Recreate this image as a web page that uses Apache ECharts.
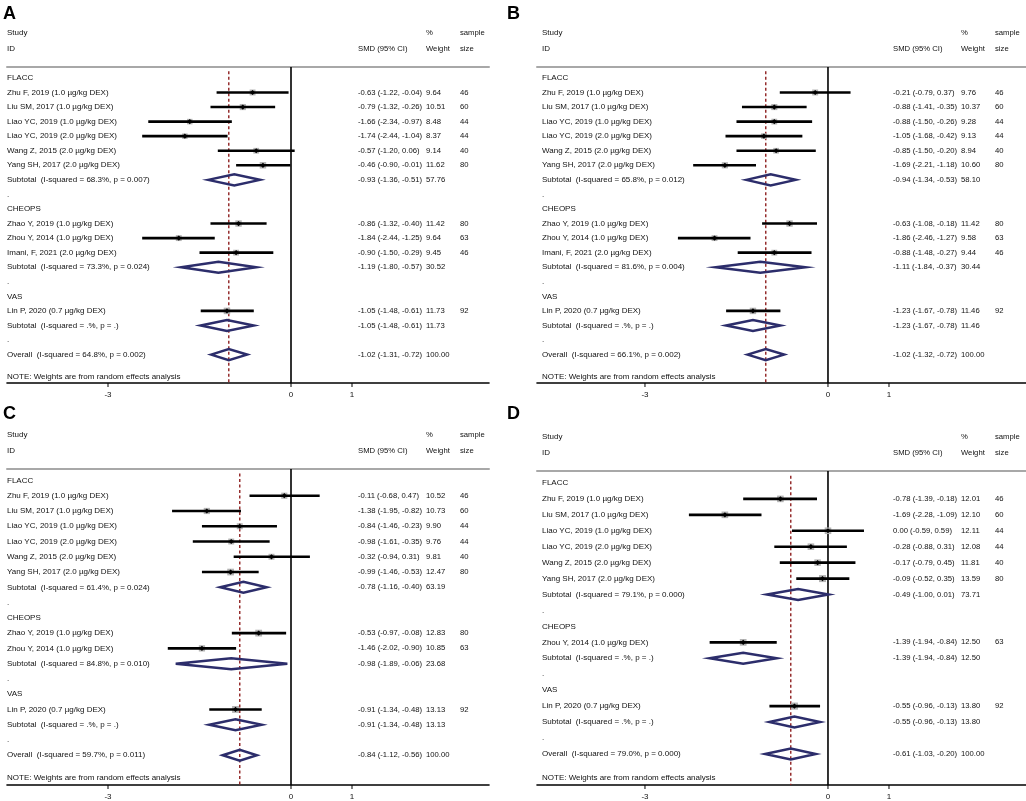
<!DOCTYPE html>
<html>
<head>
<meta charset="utf-8">
<script src="https://cdn.jsdelivr.net/npm/echarts@6/dist/echarts.min.js"></script>
<style>
html, body { margin: 0; padding: 0; background: #fff; }
#chart { width: 1026px; height: 801px; }
</style>
</head>
<body>
<div id="chart"></div>
<script>
"use strict"
// row kinds: g = group heading, s = study, t = subtotal, d = "." spacer, o = overall

// ---- panel A ----
var A_label = ["FLACC", "Zhu F, 2019 (1.0 µg/kg DEX)", "Liu SM, 2017 (1.0 µg/kg DEX)", "Liao YC, 2019 (1.0 µg/kg DEX)",
  "Liao YC, 2019 (2.0 µg/kg DEX)", "Wang Z, 2015 (2.0 µg/kg DEX)", "Yang SH, 2017 (2.0 µg/kg DEX)",
  "Subtotal  (I-squared = 68.3%, p = 0.007)", ".", "CHEOPS", "Zhao Y, 2019 (1.0 µg/kg DEX)", "Zhou Y, 2014 (1.0 µg/kg DEX)",
  "Imani, F, 2021 (2.0 µg/kg DEX)", "Subtotal  (I-squared = 73.3%, p = 0.024)", ".", "VAS", "Lin P, 2020 (0.7 µg/kg DEX)",
  "Subtotal  (I-squared = .%, p = .)", ".", "Overall  (I-squared = 64.8%, p = 0.002)"];
var A_kind = "gsssssstdgssstdgstdo";
var A_est = [null, -0.63, -0.79, -1.66, -1.74, -0.57, -0.46, -0.93, null, null, -0.86, -1.84, -0.90, -1.19, null, null, -1.05, -1.05, null, -1.02];
var A_lo = [null, -1.22, -1.32, -2.34, -2.44, -1.20, -0.90, -1.36, null, null, -1.32, -2.44, -1.50, -1.80, null, null, -1.48, -1.48, null, -1.31];
var A_hi = [null, -0.04, -0.26, -0.97, -1.04, 0.06, -0.01, -0.51, null, null, -0.40, -1.25, -0.29, -0.57, null, null, -0.61, -0.61, null, -0.72];
var A_wt = [null, 9.64, 10.51, 8.48, 8.37, 9.14, 11.62, 57.76, null, null, 11.42, 9.64, 9.45, 30.52, null, null, 11.73, 11.73, null, 100.00];
var A_n = [null, 46, 60, 44, 44, 40, 80, null, null, null, 80, 63, 46, null, null, null, 92, null, null, null];

// ---- panel B ----
var B_label = ["FLACC", "Zhu F, 2019 (1.0 µg/kg DEX)", "Liu SM, 2017 (1.0 µg/kg DEX)", "Liao YC, 2019 (1.0 µg/kg DEX)",
  "Liao YC, 2019 (2.0 µg/kg DEX)", "Wang Z, 2015 (2.0 µg/kg DEX)", "Yang SH, 2017 (2.0 µg/kg DEX)",
  "Subtotal  (I-squared = 65.8%, p = 0.012)", ".", "CHEOPS", "Zhao Y, 2019 (1.0 µg/kg DEX)", "Zhou Y, 2014 (1.0 µg/kg DEX)",
  "Imani, F, 2021 (2.0 µg/kg DEX)", "Subtotal  (I-squared = 81.6%, p = 0.004)", ".", "VAS", "Lin P, 2020 (0.7 µg/kg DEX)",
  "Subtotal  (I-squared = .%, p = .)", ".", "Overall  (I-squared = 66.1%, p = 0.002)"];
var B_kind = "gsssssstdgssstdgstdo";
var B_est = [null, -0.21, -0.88, -0.88, -1.05, -0.85, -1.69, -0.94, null, null, -0.63, -1.86, -0.88, -1.11, null, null, -1.23, -1.23, null, -1.02];
var B_lo = [null, -0.79, -1.41, -1.50, -1.68, -1.50, -2.21, -1.34, null, null, -1.08, -2.46, -1.48, -1.84, null, null, -1.67, -1.67, null, -1.32];
var B_hi = [null, 0.37, -0.35, -0.26, -0.42, -0.20, -1.18, -0.53, null, null, -0.18, -1.27, -0.27, -0.37, null, null, -0.78, -0.78, null, -0.72];
var B_wt = [null, 9.76, 10.37, 9.28, 9.13, 8.94, 10.60, 58.10, null, null, 11.42, 9.58, 9.44, 30.44, null, null, 11.46, 11.46, null, 100.00];
var B_n = [null, 46, 60, 44, 44, 40, 80, null, null, null, 80, 63, 46, null, null, null, 92, null, null, null];

// ---- panel C ----
var C_label = ["FLACC", "Zhu F, 2019 (1.0 µg/kg DEX)", "Liu SM, 2017 (1.0 µg/kg DEX)", "Liao YC, 2019 (1.0 µg/kg DEX)",
  "Liao YC, 2019 (2.0 µg/kg DEX)", "Wang Z, 2015 (2.0 µg/kg DEX)", "Yang SH, 2017 (2.0 µg/kg DEX)",
  "Subtotal  (I-squared = 61.4%, p = 0.024)", ".", "CHEOPS", "Zhao Y, 2019 (1.0 µg/kg DEX)", "Zhou Y, 2014 (1.0 µg/kg DEX)",
  "Subtotal  (I-squared = 84.8%, p = 0.010)", ".", "VAS", "Lin P, 2020 (0.7 µg/kg DEX)",
  "Subtotal  (I-squared = .%, p = .)", ".", "Overall  (I-squared = 59.7%, p = 0.011)"];
var C_kind = "gsssssstdgsstdgstdo";
var C_est = [null, -0.11, -1.38, -0.84, -0.98, -0.32, -0.99, -0.78, null, null, -0.53, -1.46, -0.98, null, null, -0.91, -0.91, null, -0.84];
var C_lo = [null, -0.68, -1.95, -1.46, -1.61, -0.94, -1.46, -1.16, null, null, -0.97, -2.02, -1.89, null, null, -1.34, -1.34, null, -1.12];
var C_hi = [null, 0.47, -0.82, -0.23, -0.35, 0.31, -0.53, -0.40, null, null, -0.08, -0.90, -0.06, null, null, -0.48, -0.48, null, -0.56];
var C_wt = [null, 10.52, 10.73, 9.90, 9.76, 9.81, 12.47, 63.19, null, null, 12.83, 10.85, 23.68, null, null, 13.13, 13.13, null, 100.00];
var C_n = [null, 46, 60, 44, 44, 40, 80, null, null, null, 80, 63, null, null, null, 92, null, null, null];

// ---- panel D ----
var D_label = ["FLACC", "Zhu F, 2019 (1.0 µg/kg DEX)", "Liu SM, 2017 (1.0 µg/kg DEX)", "Liao YC, 2019 (1.0 µg/kg DEX)",
  "Liao YC, 2019 (2.0 µg/kg DEX)", "Wang Z, 2015 (2.0 µg/kg DEX)", "Yang SH, 2017 (2.0 µg/kg DEX)",
  "Subtotal  (I-squared = 79.1%, p = 0.000)", ".", "CHEOPS", "Zhou Y, 2014 (1.0 µg/kg DEX)",
  "Subtotal  (I-squared = .%, p = .)", ".", "VAS", "Lin P, 2020 (0.7 µg/kg DEX)",
  "Subtotal  (I-squared = .%, p = .)", ".", "Overall  (I-squared = 79.0%, p = 0.000)"];
var D_kind = "gsssssstdgstdgstdo";
var D_est = [null, -0.78, -1.69, 0.00, -0.28, -0.17, -0.09, -0.49, null, null, -1.39, -1.39, null, null, -0.55, -0.55, null, -0.61];
var D_lo = [null, -1.39, -2.28, -0.59, -0.88, -0.79, -0.52, -1.00, null, null, -1.94, -1.94, null, null, -0.96, -0.96, null, -1.03];
var D_hi = [null, -0.18, -1.09, 0.59, 0.31, 0.45, 0.35, 0.01, null, null, -0.84, -0.84, null, null, -0.13, -0.13, null, -0.20];
var D_wt = [null, 12.01, 12.10, 12.11, 12.08, 11.81, 13.59, 73.71, null, null, 12.50, 12.50, null, null, 13.80, 13.80, null, 100.00];
var D_n = [null, 46, 60, 44, 44, 40, 80, null, null, null, 63, null, null, null, 92, null, null, null];

var HEAD1 = ["Study", "", "%", "sample"];
var HEAD2 = ["ID", "SMD (95% CI)", "Weight", "size"];
var NOTE = "NOTE: Weights are from random effects analysis";
var TICKS = [-3, 0, 1];

var FONT = '"Liberation Sans", Arial, sans-serif';
var COLX = [0, 351, 419, 453];   // text columns, offset from panel text left
var COLSIZE = [8, 7.7, 7.7, 7.7];

var panels = [
  { letter: "A", label: A_label, kind: A_kind, est: A_est, lo: A_lo, hi: A_hi, wt: A_wt, n: A_n,
    left: 7, width: 482, top: 67, bottom: 418, textLeft: 7, xmin: -4.656, xmax: 3.246, lx: 3, ly: 5 },
  { letter: "B", label: B_label, kind: B_kind, est: B_est, lo: B_lo, hi: B_hi, wt: B_wt, n: B_n,
    left: 537, width: 489, top: 67, bottom: 418, textLeft: 542, xmin: -4.770, xmax: 3.246, lx: 507, ly: 5 },
  { letter: "C", label: C_label, kind: C_kind, est: C_est, lo: C_lo, hi: C_hi, wt: C_wt, n: C_n,
    left: 7, width: 482, top: 469, bottom: 15, textLeft: 7, xmin: -4.656, xmax: 3.246, lx: 3, ly: 405 },
  { letter: "D", label: D_label, kind: D_kind, est: D_est, lo: D_lo, hi: D_hi, wt: D_wt, n: D_n,
    left: 537, width: 489, top: 471, bottom: 15, textLeft: 542, xmin: -4.770, xmax: 3.246, lx: 507, ly: 405 }
];

var grids = [], xAxes = [], yAxes = [], series = [], graphics = [];

panels.forEach(function (P, pi) {
  var last = P.kind.length - 1;
  var yMin = -0.75, yMax = last + 1.95;
  var overall = P.est[last];

  grids.push({ left: P.left, width: P.width, top: P.top, bottom: P.bottom, containLabel: false });

  xAxes.push({
    gridIndex: pi, type: 'value', position: 'bottom', min: P.xmin, max: P.xmax,
    axisLine: { show: true, onZero: false, lineStyle: { color: '#000', width: 1.6 } },
    axisTick: { show: false },
    axisLabel: { customValues: TICKS, margin: 8, fontSize: 8, fontFamily: FONT, color: '#111' },
    splitLine: { show: false }
  });
  // top axis only draws the grey rule under the header
  xAxes.push({
    gridIndex: pi, type: 'value', position: 'top', min: P.xmin, max: P.xmax,
    axisLine: { show: true, onZero: false, lineStyle: { color: '#a8a8a8', width: 2 } },
    axisTick: { show: false }, axisLabel: { show: false }, splitLine: { show: false }
  });
  yAxes.push({ gridIndex: pi, type: 'value', inverse: true, min: yMin, max: yMax, show: false });

  var xi = pi * 2;

  // zero line and overall (dashed) line
  series.push({
    type: 'line', xAxisIndex: xi, yAxisIndex: pi, data: [[0, yMin], [0, yMax]],
    symbol: 'none', silent: true, z: 1, lineStyle: { color: '#000', width: 1.6 }
  });
  series.push({
    type: 'line', xAxisIndex: xi, yAxisIndex: pi, data: [[overall, -0.45], [overall, yMax]],
    symbol: 'none', silent: true, z: 1, lineStyle: { color: '#8e1f1f', width: 1.4, type: [3, 2.5] }
  });

  // tick marks below the axis line
  series.push({
    type: 'custom', xAxisIndex: xi, yAxisIndex: pi, z: 2, silent: true, clip: false,
    data: TICKS.map(function (t) { return [t, yMax]; }),
    renderItem: function (params, api) {
      var p = api.coord([api.value(0), api.value(1)]);
      return { type: 'line', shape: { x1: p[0], y1: p[1], x2: p[0], y2: p[1] + 4 }, style: { stroke: '#000', lineWidth: 1 } };
    }
  });

  // studies
  var studyData = [], diaData = [];
  for (var i = 0; i <= last; i++) {
    var k = P.kind.charAt(i);
    if (k === 's') studyData.push([P.est[i], i, P.lo[i], P.hi[i], P.wt[i]]);
    if (k === 't' || k === 'o') diaData.push([P.est[i], i, P.lo[i], P.hi[i]]);
  }
  series.push({
    type: 'custom', xAxisIndex: xi, yAxisIndex: pi, data: studyData, z: 3, silent: true,
    renderItem: function (params, api) {
      var row = api.value(1);
      var p = api.coord([api.value(0), row]);
      var pl = api.coord([api.value(2), row]);
      var ph = api.coord([api.value(3), row]);
      var s = 1.9 * Math.sqrt(api.value(4));
      var d = 2.6;
      return {
        type: 'group', children: [
          { type: 'rect', shape: { x: p[0] - s / 2, y: p[1] - s / 2, width: s, height: s }, style: { fill: '#b4b4b4' } },
          { type: 'line', shape: { x1: pl[0], y1: p[1], x2: ph[0], y2: p[1] }, style: { stroke: '#000', lineWidth: 2.6 } },
          { type: 'polygon', shape: { points: [[p[0] - d, p[1]], [p[0], p[1] - d], [p[0] + d, p[1]], [p[0], p[1] + d]] }, style: { fill: '#000' } }
        ]
      };
    }
  });
  // pooled diamonds
  series.push({
    type: 'custom', xAxisIndex: xi, yAxisIndex: pi, data: diaData, z: 3, silent: true,
    renderItem: function (params, api) {
      var row = api.value(1);
      var p = api.coord([api.value(0), row]);
      var pl = api.coord([api.value(2), row]);
      var ph = api.coord([api.value(3), row]);
      var h = 5.5;
      return {
        type: 'polygon',
        shape: { points: [[pl[0], p[1]], [p[0], p[1] - h], [ph[0], p[1]], [p[0], p[1] + h]] },
        style: { fill: 'none', stroke: '#2c2d6b', lineWidth: 2.5, lineJoin: 'miter' }
      };
    }
  });

  // text table: header rows (placed from the grid top), study rows, note
  var texts = [];
  texts.push({ y: 0, px: -34, cols: HEAD1 });
  texts.push({ y: 0, px: -18.5, cols: HEAD2 });
  for (var j = 0; j <= last; j++) {
    var kk = P.kind.charAt(j);
    var cols = [P.label[j], '', '', ''];
    if (kk === 's' || kk === 't' || kk === 'o') {
      cols[1] = P.est[j].toFixed(2) + ' (' + P.lo[j].toFixed(2) + ', ' + P.hi[j].toFixed(2) + ')';
      cols[2] = P.wt[j].toFixed(2);
      cols[3] = P.n[j] == null ? '' : String(P.n[j]);
    }
    texts.push({ y: j, cols: cols });
  }
  texts.push({ y: last + 1.5, cols: [NOTE, '', '', ''] });

  series.push({
    type: 'custom', xAxisIndex: xi, yAxisIndex: pi, z: 4, silent: true, clip: false,
    data: texts.map(function (t, idx) { return [0, t.y, idx]; }),
    renderItem: function (params, api) {
      var t = texts[api.value(2)];
      var y = t.px != null ? params.coordSys.y + t.px : api.coord([0, api.value(1)])[1];
      var ch = [];
      t.cols.forEach(function (c, ci) {
        if (!c) return;
        ch.push({ type: 'text', style: { text: c, x: P.textLeft + COLX[ci], y: y, fontSize: COLSIZE[ci], fontFamily: FONT, fill: '#111', align: 'left', verticalAlign: 'middle' } });
      });
      return { type: 'group', children: ch };
    }
  });

  graphics.push({
    type: 'text', left: P.lx, top: P.ly,
    style: { text: P.letter, fontSize: 18, fontWeight: 'bold', fontFamily: FONT, fill: '#000' }
  });
});

var chart = echarts.init(document.getElementById('chart'));
chart.setOption({
  backgroundColor: '#fff',
  animation: false,
  grid: grids,
  xAxis: xAxes,
  yAxis: yAxes,
  series: series,
  graphic: graphics
});
</script>
</body>
</html>
